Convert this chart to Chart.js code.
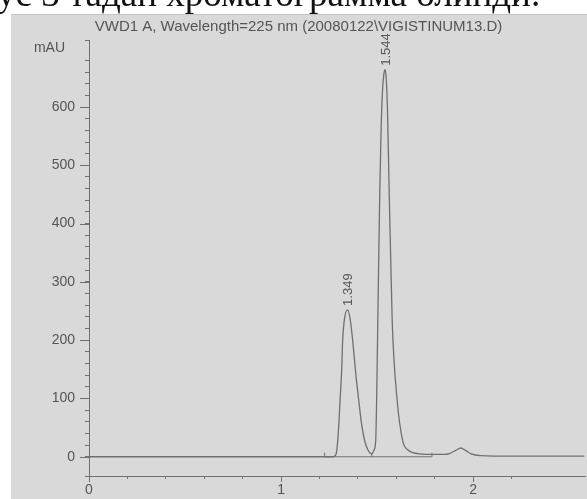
<!DOCTYPE html>
<html>
<head>
<meta charset="utf-8">
<script src="https://cdn.jsdelivr.net/npm/chart.js@4/dist/chart.umd.min.js"></script>
<style>
  html, body { margin: 0; padding: 0; background: #fff; }
  #wrap { position: relative; width: 587px; height: 499px; overflow: hidden; }
  #panel { position: absolute; left: 11px; top: 14px; right: 0; bottom: 0; background: #d9d9d9; border-top: 1px solid #c4c4c4; }
  #caption { position: absolute; left: -3px; top: -25px; white-space: nowrap; font: 37px "Liberation Serif", "DejaVu Serif", serif; line-height: 37px; color: #111; z-index: 2; }
  #chart { position: absolute; left: 0; top: 0; z-index: 1; }
</style>
</head>
<body>
<div id="wrap">
  <div id="panel"></div>
  <div id="caption">ус 3 тадан хроматограмма олинди.</div>
  <canvas id="chart" width="587" height="499"></canvas>
</div>
<script>
/* Сигнал детектора VWD1 A, 225 nm */
const times = [0, 0.5, 1.0, 1.20, 1.27, 1.279, 1.29, 1.300, 1.308, 1.316, 1.321, 1.332, 1.347,
  1.360, 1.373, 1.390, 1.405, 1.420, 1.436, 1.452, 1.465, 1.473, 1.485, 1.493, 1.498, 1.504,
  1.514, 1.521, 1.528, 1.535, 1.542, 1.548, 1.554, 1.563, 1.579, 1.605, 1.634, 1.660, 1.687, 1.72,
  1.80, 1.85, 1.88, 1.91, 1.937, 1.96, 1.99, 2.04, 2.2, 2.4, 2.58];
const mau = [0, 0, 0, 0, 0, 1, 10, 50, 100, 150, 200, 240, 252,
  236, 200, 140, 96, 55, 27, 12, 6, 5, 12, 27, 100, 233,
  450, 560, 625, 655, 664, 648, 600, 460, 233, 96, 27, 12, 7, 5,
  4, 4, 6, 11, 15, 11, 5, 2, 1, 1, 1];

/* Пики */
const peakTimes = [1.347, 1.542];
const peakHeights = [252, 664];
const peakLabels = ["1.349", "1.544"];

/* Базовая линия интегрирования */
const baseStart = 1.227;
const baseEnd = 1.786;
const markTimes = [1.227, 1.473, 1.786];
const markTops = [7, 6, 7];

const xMin = 0, xMax = 2.583;
const yMin = -33, yMax = 715;

let signal = times.map((t, i) => ({ x: t, y: mau[i] }));
let baseline = [{ x: baseStart, y: 0 }, { x: baseEnd, y: 0 }];
let marks = [];
markTimes.forEach((t, i) => {
    marks.push({ x: t, y: 0 }, { x: t, y: markTops[i] }, { x: t, y: null });
});

const grey = "#707070";
const textGrey = "#555555";
const sans = "'Liberation Sans', Arial, sans-serif";

/* Подписи: длинные риски, mAU, номера пиков */
const extras = {
    id: "extras",
    afterDraw(chart) {
        const ctx = chart.ctx;
        const xs = chart.scales.x, ys = chart.scales.y;
        ctx.save();
        ctx.strokeStyle = grey;
        ctx.lineWidth = 1;
        ctx.beginPath();
        ys.ticks.forEach(tk => {
            if (tk.value % 100 === 0 && tk.value >= 0 && tk.value <= 600) {
                let py = Math.round(ys.getPixelForValue(tk.value)) + 0.5;
                ctx.moveTo(xs.left - 9, py);
                ctx.lineTo(xs.left, py);
            }
        });
        xs.ticks.forEach(tk => {
            if (Math.abs(tk.value - Math.round(tk.value)) < 1e-6) {
                let px = Math.round(xs.getPixelForValue(tk.value)) + 0.5;
                ctx.moveTo(px, ys.bottom);
                ctx.lineTo(px, ys.bottom + 6);
            }
        });
        ctx.stroke();

        ctx.fillStyle = textGrey;
        ctx.font = "14px " + sans;
        ctx.textAlign = "right";
        ctx.textBaseline = "middle";
        ctx.fillText("mAU", xs.left - 24, ys.getPixelForValue(yMax) + 8);

        ctx.font = "13px " + sans;
        ctx.textAlign = "left";
        peakLabels.forEach((lab, i) => {
            let px = xs.getPixelForValue(peakTimes[i]);
            let py = ys.getPixelForValue(peakHeights[i]) - 4;
            ctx.save();
            ctx.translate(px + 1, py);
            ctx.rotate(-Math.PI / 2);
            ctx.fillText(lab, 0, 0);
            ctx.restore();
        });
        ctx.restore();
    }
};

new Chart(document.getElementById("chart"), {
    type: "line",
    data: {
        datasets: [
            {
                data: signal,
                borderColor: grey,
                borderWidth: 1.3,
                pointRadius: 0,
                cubicInterpolationMode: "monotone",
                fill: false
            },
            {
                data: baseline,
                borderColor: grey,
                borderWidth: 1,
                pointRadius: 0,
                fill: false
            },
            {
                data: marks,
                borderColor: grey,
                borderWidth: 1,
                pointRadius: 0,
                spanGaps: false,
                fill: false
            }
        ]
    },
    options: {
        responsive: false,
        animation: false,
        layout: { padding: { top: 0, right: 2, left: 12, bottom: 0 } },
        plugins: {
            legend: { display: false },
            tooltip: { enabled: false },
            title: {
                display: true,
                text: "VWD1 A, Wavelength=225 nm (20080122\\VIGISTINUM13.D)",
                color: textGrey,
                font: { family: sans, size: 15, weight: "normal" },
                padding: { top: 18, bottom: 4 }
            }
        },
        scales: {
            x: {
                type: "linear",
                min: xMin,
                max: xMax,
                afterBuildTicks(s) {
                    s.ticks = s.ticks.filter(t => Math.abs(t.value * 5 - Math.round(t.value * 5)) < 1e-6);
                },
                afterFit(s) { s.height = 23; },
                ticks: {
                    stepSize: 0.2,
                    color: textGrey,
                    font: { family: sans, size: 14 },
                    padding: 3,
                    maxRotation: 0,
                    autoSkip: false,
                    callback: v => Math.abs(v - Math.round(v)) < 1e-6 ? String(Math.round(v)) : ""
                },
                grid: { drawOnChartArea: false, drawTicks: true, tickLength: 3, color: grey },
                border: { color: grey, width: 1 }
            },
            y: {
                type: "linear",
                min: yMin,
                max: yMax,
                afterFit(s) { s.width = 77; },
                ticks: {
                    stepSize: 20,
                    color: textGrey,
                    font: { family: sans, size: 14 },
                    padding: 10,
                    autoSkip: false,
                    callback: v => (v % 100 === 0 && v >= 0 && v <= 600) ? String(v) : ""
                },
                grid: { drawOnChartArea: false, drawTicks: true, tickLength: 4, color: grey },
                border: { color: grey, width: 1 }
            }
        }
    },
    plugins: [extras]
});
</script>
</body>
</html>
